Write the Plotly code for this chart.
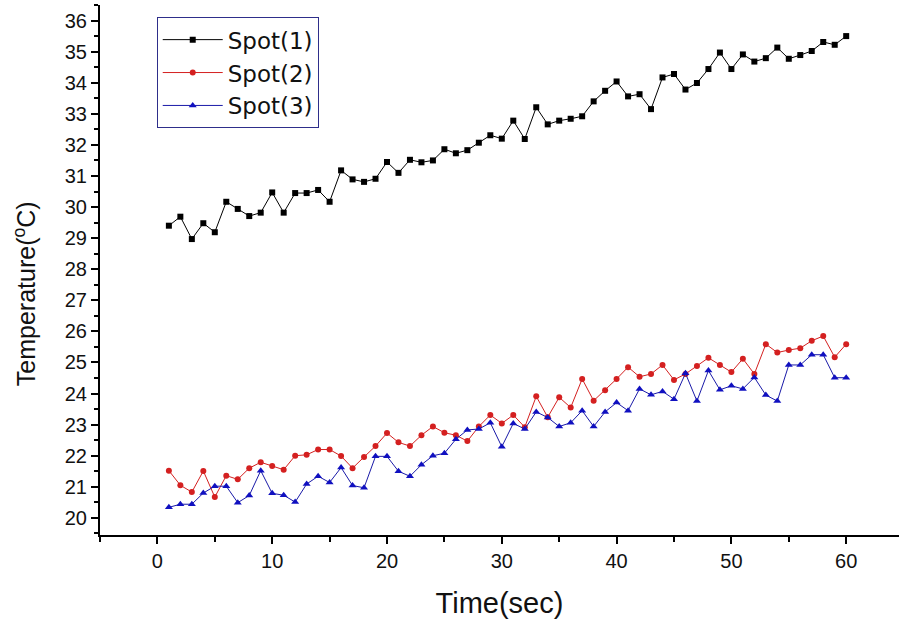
import plotly.graph_objects as go

time_sec = list(range(1, 61))

spot1 = [29.40, 29.69, 28.97, 29.48, 29.19, 30.17, 29.94, 29.71, 29.82, 30.47,
         29.82, 30.45, 30.45, 30.55, 30.17, 31.18, 30.89, 30.81, 30.91, 31.45,
         31.10, 31.52, 31.44, 31.50, 31.86, 31.73, 31.83, 32.07, 32.31, 32.20,
         32.78, 32.19, 33.21, 32.66, 32.78, 32.84, 32.92, 33.40, 33.74, 34.04,
         33.56, 33.63, 33.15, 34.17, 34.28, 33.78, 33.99, 34.44, 34.97, 34.44,
         34.91, 34.68, 34.79, 35.13, 34.77, 34.89, 35.02, 35.31, 35.22, 35.50]

spot2 = [21.52, 21.05, 20.83, 21.51, 20.67, 21.36, 21.24, 21.60, 21.79, 21.67,
         21.55, 22.00, 22.03, 22.20, 22.20, 21.99, 21.60, 21.96, 22.31, 22.73,
         22.43, 22.31, 22.66, 22.94, 22.74, 22.66, 22.47, 22.94, 23.31, 23.04,
         23.31, 22.92, 23.91, 23.24, 23.88, 23.55, 24.47, 23.77, 24.11, 24.47,
         24.85, 24.54, 24.63, 24.92, 24.44, 24.63, 24.89, 25.15, 24.92, 24.69,
         25.12, 24.63, 25.59, 25.32, 25.40, 25.46, 25.70, 25.85, 25.17, 25.59]

spot3 = [20.34, 20.44, 20.44, 20.80, 21.02, 21.02, 20.49, 20.72, 21.52, 20.79,
         20.73, 20.51, 21.09, 21.34, 21.14, 21.62, 21.04, 20.97, 21.98, 21.98,
         21.50, 21.34, 21.71, 22.00, 22.08, 22.53, 22.83, 22.86, 23.06, 22.29,
         23.04, 22.86, 23.41, 23.23, 22.94, 23.06, 23.45, 22.94, 23.41, 23.71,
         23.45, 24.15, 23.96, 24.07, 23.82, 24.65, 23.76, 24.74, 24.12, 24.25,
         24.15, 24.52, 23.95, 23.76, 24.92, 24.92, 25.25, 25.25, 24.51, 24.51]

series_names = ["Spot(1)", "Spot(2)", "Spot(3)"]

FONT = "Arial, Liberation Sans, sans-serif"

fig = go.Figure()
fig.add_trace(go.Scatter(x=time_sec, y=spot1, name=series_names[0], mode="lines+markers",
                         line=dict(color="#000000", width=1),
                         marker=dict(symbol="square", size=6, color="#000000")))
fig.add_trace(go.Scatter(x=time_sec, y=spot2, name=series_names[1], mode="lines+markers",
                         line=dict(color="#d42020", width=1),
                         marker=dict(symbol="circle", size=6, color="#d42020")))
fig.add_trace(go.Scatter(x=time_sec, y=spot3, name=series_names[2], mode="lines+markers",
                         line=dict(color="#1a1aa8", width=1),
                         marker=dict(symbol="triangle-up", size=7, color="#1010c0")))

fig.update_layout(
    width=899, height=621,
    margin=dict(l=100, r=0, t=5, b=86, autoexpand=False),
    paper_bgcolor="white", plot_bgcolor="white",
    font=dict(family=FONT, color="#111111"),
    showlegend=True,
    legend=dict(x=0.071, y=0.977, xanchor="left", yanchor="top",
                bgcolor="white", bordercolor="#2e2e8a", borderwidth=1,
                font=dict(size=23, family="DejaVu Sans, Arial, sans-serif", color="#111111"),
                itemwidth=60, tracegroupgap=0),
    annotations=[dict(text="Temperature(<sup>o</sup>C)", textangle=-90,
                      xref="paper", yref="paper", x=-0.094, y=0.456,
                      xanchor="center", yanchor="middle", showarrow=False,
                      font=dict(size=25, family=FONT, color="#111111"))],
)

fig.update_xaxes(
    range=[-5, 64.6], tickmode="linear", tick0=0, dtick=10,
    automargin=False,
    showgrid=False, zeroline=False,
    showline=True, linecolor="black", linewidth=2,
    ticks="outside", ticklen=7, tickwidth=2, tickcolor="black",
    tickfont=dict(size=20, family=FONT, color="#111111"),
    minor=dict(ticks="outside", ticklen=5, tickwidth=2, tickcolor="black",
               tick0=0, dtick=5, showgrid=False),
    title=dict(text="Time(sec)", font=dict(size=29, family=FONT, color="#111111"), standoff=22),
)

fig.update_yaxes(
    range=[19.45, 36.5], tickmode="linear", tick0=20, dtick=1,
    automargin=False,
    showgrid=False, zeroline=False,
    showline=True, linecolor="black", linewidth=2,
    ticks="outside", ticklen=7, tickwidth=2, tickcolor="black",
    tickfont=dict(size=20, family=FONT, color="#111111"),
    minor=dict(ticks="outside", ticklen=4, tickwidth=1.5, tickcolor="black",
               dtick=0.5, showgrid=False),
)

fig.write_html("out.html", config={"displayModeBar": False},
               post_script="document.body.style.margin='0';")
